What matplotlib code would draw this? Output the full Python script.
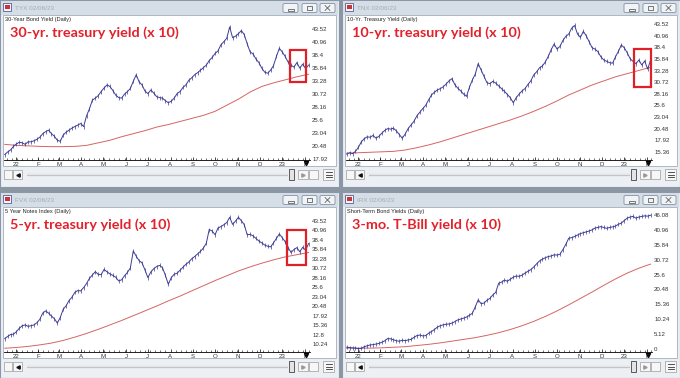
import matplotlib
matplotlib.use("Agg")
import matplotlib.pyplot as plt
import matplotlib.dates as mdates
from matplotlib.patches import Rectangle, FancyBboxPatch
import pandas as pd

# ---- data (yields x 10), one value every 4 days, 17 Dec 2021 - 6 Feb 2023
dates = pd.date_range("2021-12-17", "2023-02-06", freq="4D")
ma_dates = pd.date_range("2021-12-17", "2023-02-06", freq="16D")
month_ticks = pd.date_range("2022-01-01", "2023-02-01", freq="MS")
month_labels = ["22", "F", "M", "A", "M", "J", "J", "A", "S", "O", "N", "D", "23", "F"]

tyx = [18.8, 19.3, 19.7, 20.4, 20.9, 21.2, 21.1, 20.8, 21.3, 21.3,
       21.5, 21.8, 22.2, 22.9, 23.3, 23.6, 22.9, 22.4, 21.6, 21.4,
       22.6, 23.2, 23.6, 24.0, 24.3, 24.6, 24.9, 24.3, 26.4, 27.8,
       29.5, 29.9, 30.4, 31.2, 31.9, 32.5, 32.2, 31.4, 30.5, 30.0,
       29.9, 30.7, 31.2, 31.8, 33.2, 34.5, 33.1, 32.5, 31.3, 30.8,
       31.5, 30.9, 30.2, 30.0, 29.9, 29.4, 29.0, 29.3, 29.9, 30.8,
       31.2, 32.0, 32.5, 33.4, 33.9, 34.5, 34.9, 35.4, 35.9, 36.4,
       37.3, 37.9, 38.7, 39.2, 40.4, 41.0, 41.7, 43.9, 41.8, 42.1,
       42.6, 43.2, 42.4, 40.6, 39.0, 38.6, 37.6, 36.9, 35.8, 35.0,
       34.8, 35.4, 36.3, 38.1, 39.7, 39.0, 38.1, 37.0, 36.4, 36.0,
       36.9, 35.8, 36.6, 35.7, 36.4]
tyx_ma = [20.8, 20.6, 20.5, 20.4, 20.35, 20.35, 20.4, 20.6, 21.1, 21.6,
          22.3, 22.9, 23.5, 24.2, 24.7, 25.3, 25.9, 26.5, 27.3, 28.5,
          29.7, 31.1, 32.2, 32.9, 33.5, 34.1, 34.6]

tnx = [14.9, 15.2, 15.0, 15.5, 16.4, 17.6, 18.3, 18.7, 18.6, 19.0,
       18.4, 18.8, 19.5, 20.1, 20.5, 20.4, 20.6, 20.0, 19.2, 18.4,
       19.3, 20.5, 21.3, 22.1, 23.3, 24.1, 24.9, 25.6, 26.8, 27.9,
       28.5, 29.0, 29.3, 29.7, 30.3, 31.0, 31.5, 30.2, 29.4, 28.8,
       28.1, 27.6, 29.6, 31.2, 32.5, 34.8, 33.4, 32.0, 30.6, 30.4,
       30.9, 30.5, 29.9, 29.3, 28.7, 28.0, 27.3, 26.2, 27.3, 28.1,
       28.8, 29.3, 30.2, 31.0, 32.3, 33.0, 33.9, 34.3, 35.2, 36.4,
       37.9, 39.1, 38.0, 38.6, 39.9, 40.8, 41.3, 42.6, 43.2, 41.3,
       40.6, 41.9, 40.9, 39.6, 38.3, 38.0, 37.4, 36.3, 35.6, 35.3,
       35.0, 34.9, 36.3, 37.5, 38.9, 38.3, 37.2, 35.9, 35.3, 34.8,
       35.6, 34.5, 35.4, 33.6, 35.5]
tnx_ma = [15.1, 15.2, 15.3, 15.4, 15.5, 15.8, 16.3, 16.9, 17.6, 18.4,
          19.2, 20.0, 20.8, 21.6, 22.4, 23.3, 24.3, 25.4, 26.6, 27.9,
          29.0, 30.1, 31.0, 31.9, 32.6, 33.3, 34.0]

fvx = [11.7, 12.3, 12.8, 12.9, 13.6, 14.5, 15.2, 15.4, 15.0, 15.2,
       15.4, 16.0, 16.9, 18.6, 19.2, 18.6, 17.8, 17.1, 15.9, 17.4,
       19.6, 20.6, 22.0, 22.9, 24.2, 24.7, 24.6, 25.5, 26.6, 28.0,
       28.9, 29.8, 29.1, 29.0, 30.4, 29.8, 29.2, 28.8, 28.3, 27.3,
       27.6, 28.7, 29.6, 30.8, 35.4, 34.0, 32.8, 32.2, 30.3, 28.2,
       29.7, 30.6, 31.2, 31.5, 30.9, 28.8, 26.4, 28.2, 29.1, 29.4,
       30.2, 31.0, 31.8, 32.4, 33.3, 33.9, 34.6, 35.3, 36.2, 37.5,
       41.2, 40.8, 39.8, 41.6, 42.0, 42.5, 43.1, 44.5, 42.6, 43.5,
       44.5, 43.6, 42.5, 39.8, 39.9, 39.5, 38.8, 38.1, 37.6, 37.0,
       36.7, 36.5, 37.6, 38.8, 40.0, 39.0, 37.9, 36.3, 35.0, 35.8,
       36.3, 35.2, 36.4, 35.6, 37.4]
fvx_ma = [9.1, 9.3, 9.6, 10.0, 10.5, 11.2, 12.1, 13.1, 14.2, 15.4,
          16.6, 17.9, 19.2, 20.5, 21.9, 23.2, 24.6, 26.0, 27.4, 28.7,
          30.0, 31.1, 32.1, 33.0, 33.8, 34.4, 35.0]

irx = [0.6, 0.5, 0.4, 0.3, 0.1, 0.2, 0.8, 1.1, 1.4, 1.5,
       1.7, 1.9, 2.3, 2.8, 3.6, 3.5, 3.2, 2.8, 2.7, 3.0,
       2.9, 3.1, 3.3, 4.0, 4.6, 4.8, 4.5, 4.6, 5.4, 6.0,
       6.7, 7.5, 8.0, 8.3, 8.5, 8.6, 8.9, 9.4, 10.0, 10.3,
       10.6, 11.0, 11.6, 12.3, 14.5, 16.9, 15.6, 15.8, 16.8, 17.4,
       18.6, 19.5, 22.6, 23.0, 23.7, 23.3, 24.0, 24.7, 25.1, 25.0,
       25.4, 26.1, 26.7, 27.3, 28.2, 29.3, 30.3, 30.9, 31.4, 31.8,
       32.0, 32.4, 32.3, 32.6, 34.2, 36.0, 38.1, 38.3, 38.7, 39.2,
       39.7, 40.0, 40.3, 40.6, 41.0, 41.6, 41.8, 42.1, 41.8, 41.5,
       41.8, 42.0, 42.3, 42.9, 43.3, 44.2, 45.0, 45.4, 45.6, 45.0,
       45.4, 45.6, 45.8, 45.7, 46.0]
irx_ma = [0.3, 0.3, 0.3, 0.4, 0.6, 0.8, 1.2, 1.6, 2.1, 2.7,
          3.3, 3.9, 4.7, 5.6, 6.7, 8.0, 9.5, 11.2, 13.1, 15.2,
          17.4, 19.6, 21.9, 24.1, 26.1, 27.8, 29.2]

tyx_ticks = [17.92, 20.48, 23.04, 25.6, 28.16, 30.72, 33.28, 35.84, 38.4, 40.96, 43.52]
tnx_ticks = [15.36, 17.92, 20.48, 23.04, 25.6, 28.16, 30.72, 33.28, 35.84, 38.4, 40.96, 43.52]
fvx_ticks = [10.24, 12.8, 15.36, 17.92, 20.48, 23.04, 25.6, 28.16, 30.72, 33.28,
             35.84, 38.4, 40.96, 43.52]
irx_ticks = [0, 5.12, 10.24, 15.36, 20.48, 25.6, 30.72, 35.84, 40.96, 46.08]

symbols = ["TYX", "TNX", "FVX", "IRX"]
subtitles = ["30-Year Bond Yield (Daily)", "10-Yr. Treasury Yield (Daily)",
             "5 Year Notes Index (Daily)", "Short-Term Bond Yields (Daily)"]
labels = ["30-yr. treasury yield (x 10)", "10-yr. treasury yield (x 10)",
          "5-yr. treasury yield (x 10)", "3-mo. T-Bill yield (x 10)"]
series = [tyx, tnx, fvx, irx]
averages = [tyx_ma, tnx_ma, fvx_ma, irx_ma]
ticks = [tyx_ticks, tnx_ticks, fvx_ticks, irx_ticks]
ylims = [(17.72, 46.07), (13.6, 45.28), (8.08, 47.03), (-1.03, 48.5)]
# highlighted last weeks: start, end, low, high
boxes = [("2023-01-12", "2023-02-02", 33.1, 39.4),
         ("2023-01-15", "2023-02-07", 29.7, 38.0),
         ("2023-01-07", "2023-02-02", 31.6, 41.05),
         None]

W, H = 680, 378
fig = plt.figure(figsize=(W / 100, H / 100), dpi=100, facecolor="#8c96a3")
bg = fig.add_axes([0, 0, 1, 1], zorder=-1)
bg.set_xlim(0, W); bg.set_ylim(H, 0); bg.axis("off")


def frac(x, y, w, h):
    return [x / W, 1 - (y + h) / H, w / W, h / H]


def window(ox, oy, w, h, sym, sub, label):
    bg.add_patch(Rectangle((ox, oy), w, h, fc="#eceff3", ec="#8a97a8", lw=0.8))
    bg.add_patch(Rectangle((ox + 1, oy + 1), w - 2, 13.5, fc="#d5dde7", ec="none"))
    # app icon
    bg.add_patch(Rectangle((ox + 3, oy + 3), 8, 8, fc="#f4f4fa", ec="#5c5c92", lw=0.6))
    bg.add_patch(Rectangle((ox + 4.5, oy + 5), 5, 4, fc="#c8363a", ec="none"))
    bg.text(ox + 15, oy + 8, f"{sym} 02/06/23", fontsize=4.6, color="#a3abb6",
            va="center", family="Liberation Sans")
    # min / max / close buttons
    for k, bx in enumerate((w - 56, w - 37, w - 19)):
        bg.add_patch(FancyBboxPatch((ox + bx, oy + 3.5), 15, 9,
                                    boxstyle="round,pad=0,rounding_size=1.5",
                                    fc="#f1f4f7", ec="#8491a3", lw=0.6))
        cx = ox + bx + 7.5
        if k == 0:
            bg.add_patch(Rectangle((cx - 3, oy + 9), 6, 1.6, fc="none", ec="#444", lw=0.5))
        elif k == 1:
            bg.add_patch(Rectangle((cx - 2.5, oy + 5.8), 5, 4.4, fc="none", ec="#444", lw=0.5))
        else:
            bg.plot([cx - 2.5, cx + 2.5], [oy + 5.5, oy + 10.5], color="#444", lw=0.5)
            bg.plot([cx - 2.5, cx + 2.5], [oy + 10.5, oy + 5.5], color="#444", lw=0.5)
    # chart area
    bg.add_patch(Rectangle((ox + 3, oy + 15), w - 6, 151, fc="white", ec="#a3adb9", lw=0.6))
    bg.text(ox + 5, oy + 19.5, sub, fontsize=4.1, color="#222222", va="center",
            family="Liberation Sans")
    bg.text(ox + 10, oy + 37, label, fontsize=10.4, fontweight="bold", color="#e3202b",
            va="baseline", family="Lato")
    # scroll bar row
    for bx, bw in ((4, 8), (13, 9), (298, 10), (309, 9)):
        bg.add_patch(Rectangle((ox + bx, oy + 170), bw, 9, fc="#f7f7f7", ec="#9a9a9a", lw=0.5))
    bg.plot(ox + 17.5, oy + 174.5, marker="<", ms=2.4, color="#111")
    bg.plot(ox + 303, oy + 174.5, marker=">", ms=2.4, color="#999")
    bg.plot([ox + 27, ox + 288], [oy + 174.5] * 2, color="#c4c4c4", lw=1.6, solid_capstyle="butt")
    bg.plot([ox + 27, ox + 288], [oy + 174.2] * 2, color="#f4f4f4", lw=0.5)
    bg.add_patch(Rectangle((ox + 289, oy + 169), 4.5, 11, fc="#e4e4e4", ec="#444", lw=0.6))
    bg.add_patch(Rectangle((ox + 323, oy + 169), 11, 11, fc="#f7f7f7", ec="#9a9a9a", lw=0.5))
    for dy in (172, 174.5, 177):
        bg.plot([ox + 325.5, ox + 331.5], [oy + dy] * 2, color="#333", lw=0.6)
    # cursor pin at the end of the time axis
    bg.plot(ox + 306, oy + 163, marker="v", ms=3, color="black")


origins = [(0, 0, 339, 187), (342, 0, 338, 187), (0, 192, 339, 186), (342, 192, 338, 186)]

for i in range(4):
    ox, oy, w, h = origins[i]
    window(ox, oy, w, h, symbols[i], subtitles[i], labels[i])
    ax = fig.add_axes(frac(ox + 4, oy + 16, 306, 144))
    ax.set_facecolor("none")
    ax.plot(ma_dates, averages[i], color="#d66464", lw=0.7)
    ax.plot(dates, series[i], color="#3d3d96", lw=0.7,
            marker="|", ms=2.2, mew=0.5)
    ax.set_xlim(pd.Timestamp("2021-12-16"), pd.Timestamp("2023-02-08"))
    ax.set_ylim(*ylims[i])
    ax.yaxis.tick_right()
    ax.set_yticks(ticks[i])
    ax.set_yticklabels([f"{t:g}" for t in ticks[i]], family="Liberation Sans")
    ax.tick_params(axis="y", length=0, pad=1.5, labelsize=4.4, labelcolor="#333333")
    ax.set_xticks(month_ticks)
    ax.set_xticklabels(month_labels, family="Liberation Sans")
    ax.xaxis.set_minor_locator(mdates.WeekdayLocator(byweekday=mdates.MO))
    ax.tick_params(axis="x", which="major", direction="in", length=2.5, width=0.5,
                   pad=1.5, labelsize=4.4, labelcolor="#333333")
    ax.tick_params(axis="x", which="minor", direction="in", length=1.5, width=0.4)
    for s in ("top", "left", "right"):
        ax.spines[s].set_visible(False)
    ax.spines["bottom"].set_linewidth(0.6)
    if boxes[i]:
        t0, t1, lo, hi = boxes[i]
        x0 = mdates.date2num(pd.Timestamp(t0))
        x1 = mdates.date2num(pd.Timestamp(t1))
        ax.add_patch(Rectangle((x0, lo), x1 - x0, hi - lo, fill=False, ec="#e01f26",
                               lw=1.6, clip_on=False, zorder=5))

fig.savefig("out.png", dpi=100, facecolor=fig.get_facecolor())
